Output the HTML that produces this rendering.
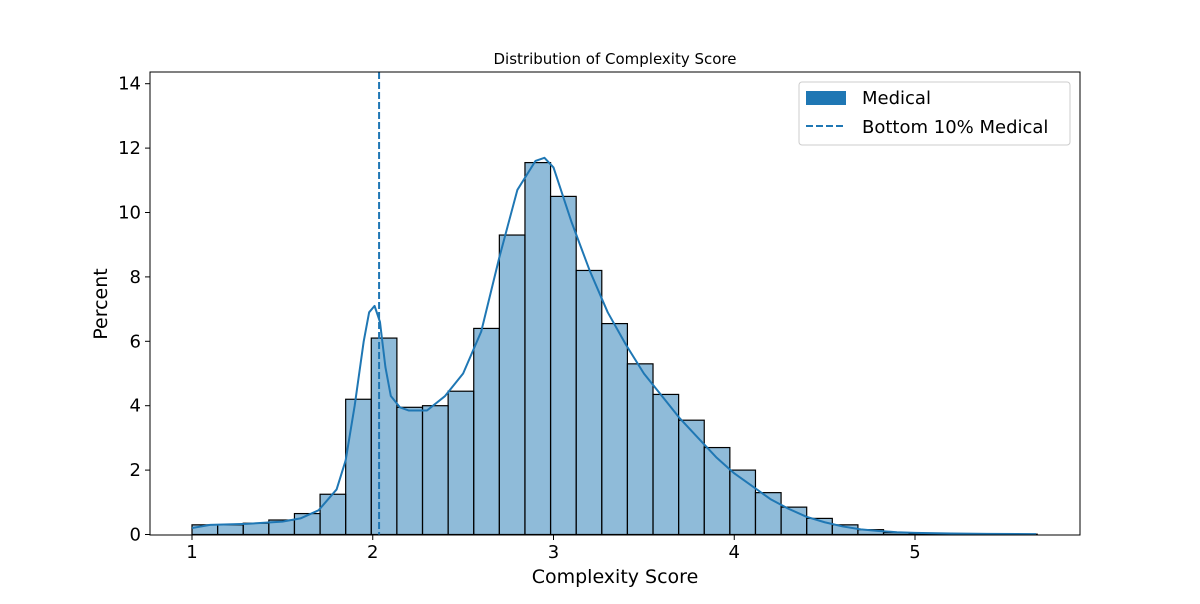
<!DOCTYPE html>
<html><head><meta charset="utf-8"><style>
body{margin:0;background:#fff;font-family:"DejaVu Sans","Liberation Sans",sans-serif}
text{font-family:"DejaVu Sans","Liberation Sans",sans-serif}
</style></head><body>
<svg id="chart" width="1200" height="600" xmlns="http://www.w3.org/2000/svg"></svg>
<script>
const binStart = 1.0;
const binWidth = 0.1417;
const percents = [0.3,0.3,0.35,0.45,0.65,1.25,4.2,6.1,3.95,4.0,4.45,6.4,9.3,11.55,10.5,8.2,6.55,5.3,4.35,3.55,2.7,2.0,1.3,0.85,0.5,0.3,0.15,0.06,0.03,0.02,0.01,0.01,0.01];
const kdeX = [1.0,1.1,1.3,1.5,1.6,1.7,1.8,1.85,1.9,1.95,1.98,2.01,2.04,2.07,2.1,2.15,2.2,2.3,2.4,2.5,2.6,2.7,2.8,2.9,2.95,3.0,3.1,3.2,3.3,3.4,3.5,3.6,3.7,3.8,3.9,4.0,4.1,4.2,4.3,4.4,4.5,4.6,4.7,4.8,4.9,5.0,5.2,5.4,5.67];
const kdeY = [0.2,0.3,0.33,0.4,0.5,0.75,1.4,2.3,4.0,6.0,6.9,7.1,6.6,5.2,4.3,3.95,3.85,3.85,4.3,5.0,6.3,8.6,10.7,11.6,11.7,11.4,9.7,8.2,6.9,5.9,5.0,4.3,3.6,3.0,2.4,1.9,1.5,1.1,0.8,0.55,0.38,0.25,0.16,0.11,0.07,0.05,0.03,0.02,0.01];
const bottom10 = 2.035;
const yTicks = [0,2,4,6,8,10,12,14];
const xTicks = [1,2,3,4,5];

const NS="http://www.w3.org/2000/svg", svg=document.getElementById('chart');
const L=150,R=1080,T=72,B=535;
const xs=v=>192+(v-1)*180.75, ys=v=>534.5-v*32.2;
function mk(t,a,p){const e=document.createElementNS(NS,t);for(const k in a)e.setAttribute(k,a[k]);(p||svg).appendChild(e);return e;}

percents.forEach((p,i)=>{
  const x0=xs(binStart+i*binWidth),x1=xs(binStart+(i+1)*binWidth);
  const r=mk('rect',{x:x0,y:ys(p),width:x1-x0,height:ys(0)-ys(p),fill:'rgba(31,119,180,0.5)',stroke:'#000','stroke-width':1.2});
  
  
});
const kd=kdeX.map((x,i)=>(i?'L':'M')+xs(x)+','+ys(kdeY[i])).join('');
const kp=mk('path',{d:kd,fill:'none',stroke:'#1f77b4','stroke-width':2,'stroke-linejoin':'round'});


const dl=mk('line',{x1:xs(bottom10),x2:xs(bottom10),y1:T,y2:B,stroke:'#1f77b4','stroke-width':2,'stroke-dasharray':'7,3'});



const fr=mk('rect',{x:L,y:T,width:R-L,height:B-T,fill:'none',stroke:'#000','stroke-width':1});



yTicks.forEach(v=>{
  mk('line',{x1:L-5,x2:L,y1:ys(v),y2:ys(v),stroke:'#000'});
  const t=mk('text',{x:L-9,y:ys(v)+6,'text-anchor':'end','font-size':18});t.textContent=v;
  
  
});
xTicks.forEach(v=>{
  mk('line',{x1:xs(v),x2:xs(v),y1:B,y2:B+5,stroke:'#000'});
  const t=mk('text',{x:xs(v),y:B+23,'text-anchor':'middle','font-size':18});t.textContent=v;
  
  
});
</script>
<svg width="1200" height="600" style="position:absolute;left:0;top:0" xmlns="http://www.w3.org/2000/svg">
<text x="615" y="64" text-anchor="middle" font-size="15">Distribution of Complexity Score</text>
<text x="615" y="583" text-anchor="middle" font-size="19">Complexity Score</text>
<text x="107" y="304" text-anchor="middle" font-size="19" transform="rotate(-90 107 304)">Percent</text>
<g>
<rect x="799" y="82" width="271" height="63" rx="3" fill="#fff" fill-opacity="0.8" stroke="#ccc"/>
<rect x="806" y="91" width="40" height="14" fill="#1f77b4"/>
<text x="862" y="104" font-size="18">Medical</text>
<line x1="806" x2="846" y1="126" y2="126" stroke="#1f77b4" stroke-width="2" stroke-dasharray="7,3"/>
<text x="862" y="133" font-size="18">Bottom 10% Medical</text>
</g>
</svg>
</body></html>
